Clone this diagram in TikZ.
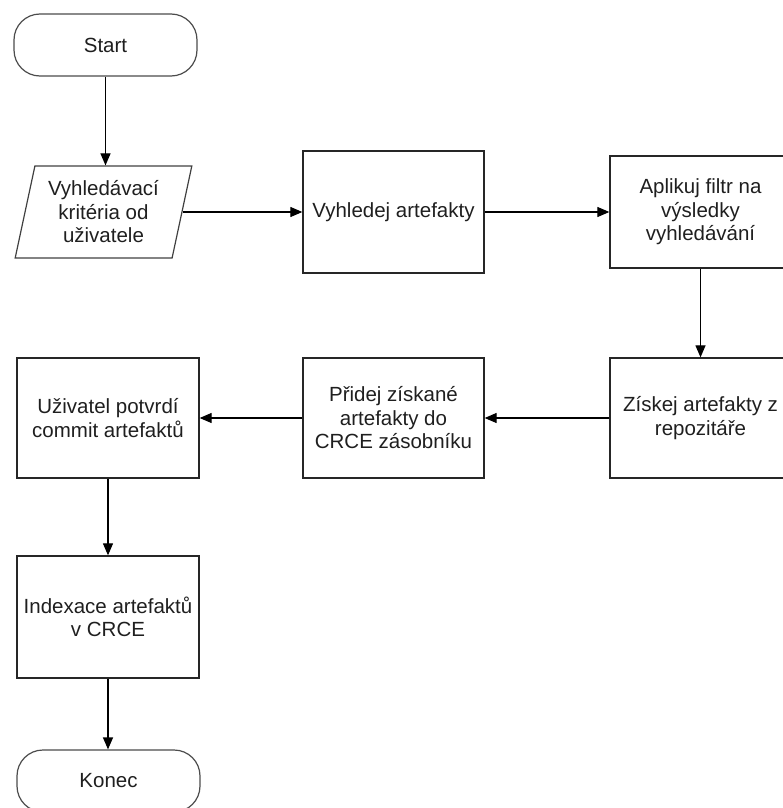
\documentclass[tikz,border=0pt]{standalone}
\usepackage{fontspec}
\setmainfont{Liberation Sans}
\usetikzlibrary{shapes.geometric,arrows.meta}
\begin{document}
\begin{tikzpicture}[x=1pt,y=-1pt,
  every node/.style={font=\fontsize{20.5}{23.5}\selectfont, text=black!88, align=center, inner sep=2pt},
  procbox/.style={draw=black!85, line width=1.3pt, rectangle, minimum width=181pt},
  termbox/.style={draw=black!70, line width=1.2pt, rectangle, rounded corners=26pt, minimum width=183pt, minimum height=62pt},
  iobox/.style={draw=black!75, line width=1.2pt, trapezium, trapezium left angle=76, trapezium right angle=104, trapezium stretches=true, minimum width=177pt, minimum height=92pt},
  flow/.style={draw=black, line width=1.2pt, -{Triangle[length=12pt,width=10pt]}}
]
\useasboundingbox (0,0) rectangle (782,808);
\node[termbox] (start) at (105.5,45) {Start};
\node[iobox] (par) at (103.5,212) {Vyhledávací\\kritéria od\\uživatele};
\node[procbox, minimum height=122pt] (vy) at (393.5,212) {Vyhledej artefakty};
\node[procbox, minimum height=112pt] (ap) at (700.5,212) {Aplikuj filtr na\\výsledky\\vyhledávání};
\node[procbox, minimum height=120pt] (zi) at (700.5,418) {Získej artefakty z\\repozitáře};
\node[procbox, minimum height=120pt] (pr) at (393.5,418) {Přidej získané\\artefakty do\\CRCE zásobníku};
\node[procbox, minimum width=182pt, minimum height=120pt] (uz) at (108,418) {Uživatel potvrdí\\commit artefaktů};
\node[procbox, minimum width=182pt, minimum height=122pt] (ix) at (108,617) {Indexace artefaktů\\v CRCE};
\node[termbox] (ko) at (108.5,781) {Konec};

\draw[flow] (start.south) -- (start.south |- par.north);
\draw[flow] (par.east) -- (vy.west |- par.east);
\draw[flow] (vy.east) -- (ap.west);
\draw[flow] (ap.south) -- (zi.north);
\draw[flow] (zi.west) -- (pr.east);
\draw[flow] (pr.west) -- (uz.east);
\draw[flow] (uz.south) -- (ix.north);
\draw[flow] (ix.south) -- (ix.south |- ko.north);
\end{tikzpicture}
\end{document}
